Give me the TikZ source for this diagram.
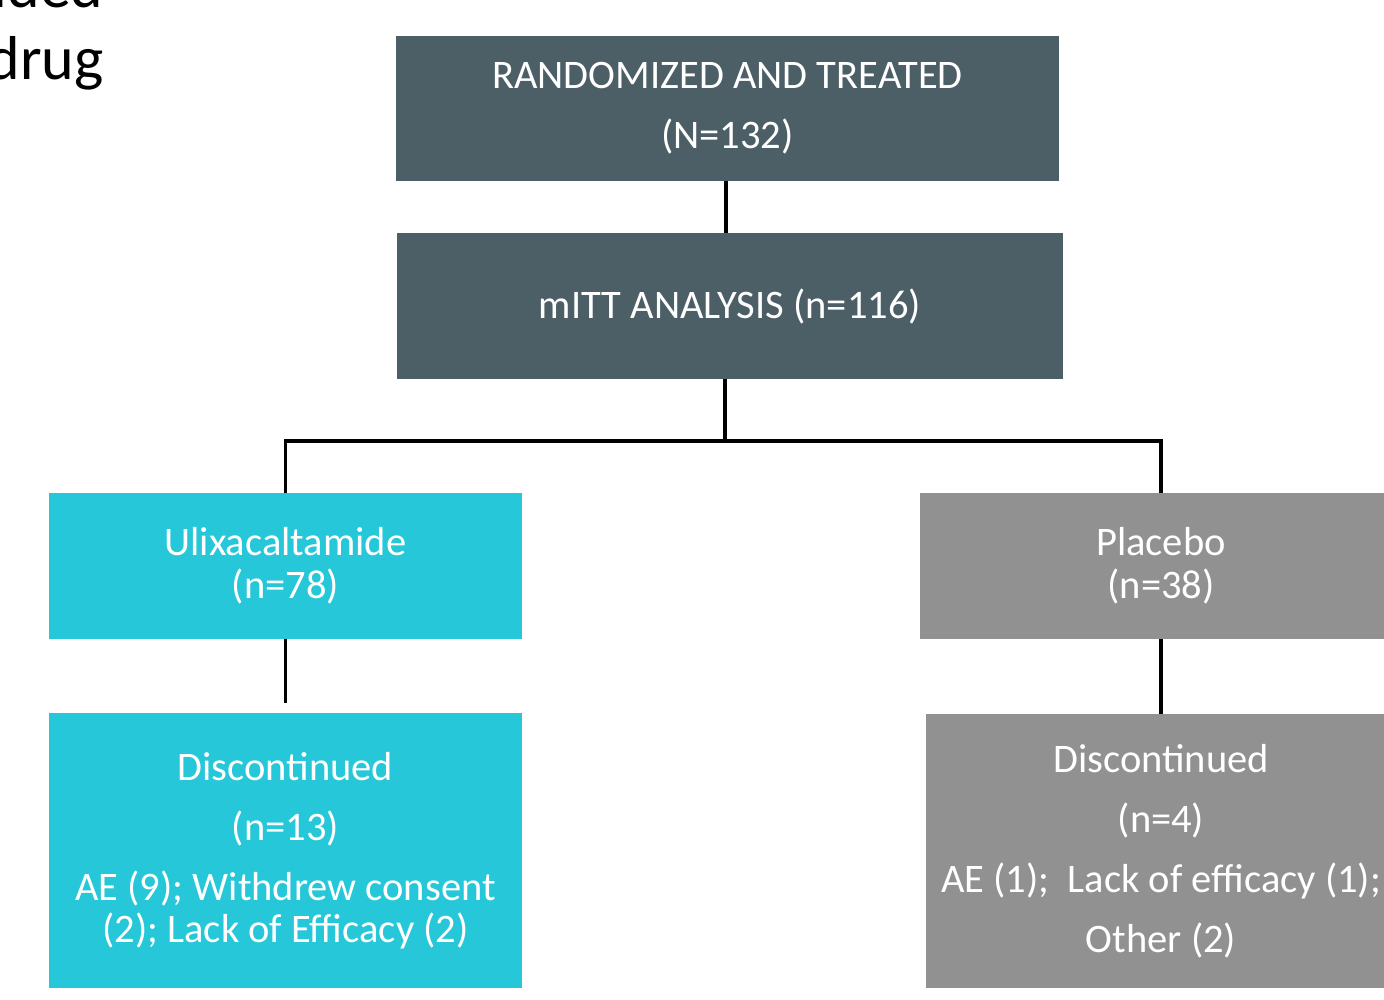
\documentclass[tikz,border=0pt]{standalone}
\usepackage{fontspec}
\setmainfont{Carlito}
\definecolor{slate}{HTML}{4D5F66}
\definecolor{cyanbox}{HTML}{26C7D8}
\definecolor{graybox}{HTML}{919191}
\begin{document}
\begin{tikzpicture}[x=1pt,y=-1pt,
  box/.style={rectangle,inner sep=0pt,outer sep=0pt,text=white,align=center},
  sixty/.style={font=\fontsize{40.5}{60}\selectfont},
  tight/.style={font=\fontsize{40.5}{43}\selectfont},
  link/.style={draw=black,line width=3.5pt}]
\useasboundingbox (0,0) rectangle (1384,1000);
\clip (0,0) rectangle (1384,1000);
\fill[white] (0,0) rectangle (1384,1000);

\node[anchor=base east,font=\fontsize{62}{72}\selectfont] (t1) at (107,8) {excluded};
\node[anchor=base east,font=\fontsize{62}{72}\selectfont] (t2) at (107,80) {drug};

\node[box,sixty,fill=slate,minimum width=663,minimum height=145] (top) at (727.5,108.5) {RANDOMIZED AND TREATED\\(N=132)};
\node[box,sixty,fill=slate,minimum width=666,minimum height=146] (mitt) at (730,306) {mITT ANALYSIS (n=116)};
\node[box,tight,fill=cyanbox,minimum width=473,minimum height=146] (ulix) at (285.5,566) {Ulixacaltamide\\(n=78)};
\node[box,tight,fill=graybox,minimum width=482,minimum height=146] (plac) at (1161,566) {Placebo\\(n=38)};
\node[box,sixty,fill=cyanbox,minimum width=473,minimum height=275] (ulixd) at (285.5,850.5) {Discontinued\\(n=13)\\AE (9); Withdrew consent\\[-18pt](2); Lack of Efficacy (2)};
\node[box,sixty,fill=graybox,minimum width=470,minimum height=274] (placd) at (1161,851) {Discontinued\\(n=4)\\AE (1);\ \ Lack of efficacy (1);\\Other (2)};

\coordinate (c1) at ([xshift=-1.5pt]top.south);
\coordinate (c2) at ([xshift=-5pt]mitt.south);
\coordinate (split) at ([yshift=-62pt]c2);
\draw[link] (c1) -- (c1 |- mitt.north);
\draw[link] (c2) -- (split);
\draw[link] (ulix.north) |- (split) -| (plac.north);
\draw[link] (ulix.south) -- ([yshift=10pt]ulixd.north);
\draw[link] (plac.south) -- (placd.north);
\end{tikzpicture}
\end{document}
